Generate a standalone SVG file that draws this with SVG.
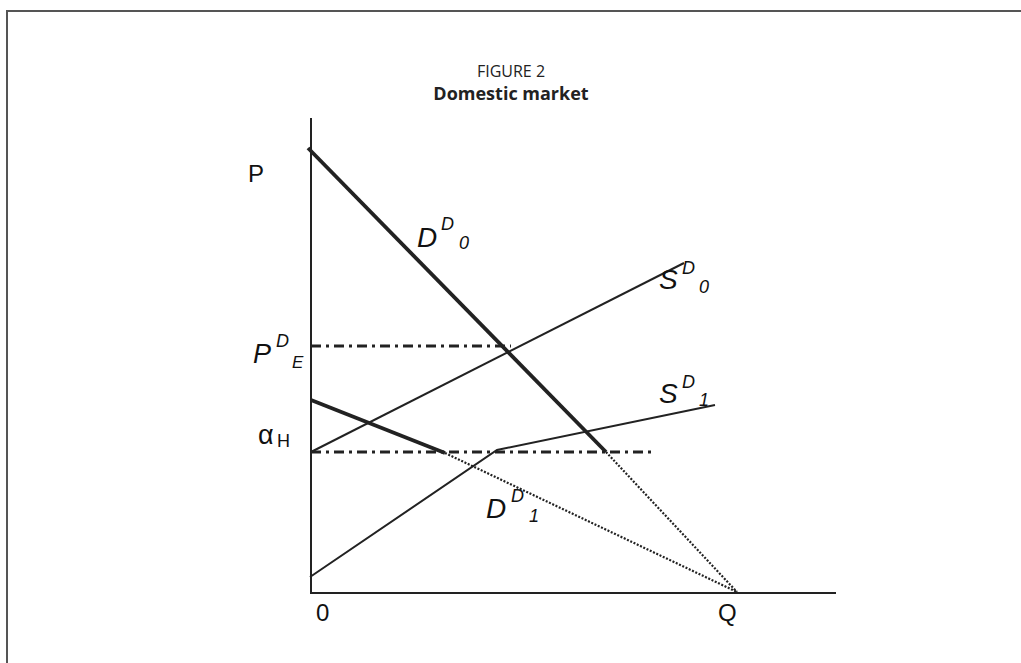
<svg xmlns="http://www.w3.org/2000/svg" width="1021" height="663" viewBox="0 0 1021 663">
<style>
.frame{fill:none;stroke:#555;stroke-width:2}
.axis{stroke:#222;stroke-width:2;fill:none}
.thin{stroke:#222;stroke-width:2;fill:none}
.thick{stroke:#222;stroke-width:3.8;fill:none}
.dot{stroke:#222;stroke-width:2.2;fill:none;stroke-dasharray:2 1.6}
.dashdot{stroke:#222;stroke-width:2.8;fill:none;stroke-dasharray:10 5 3 5}
.lbl{font-family:"Liberation Sans",Arial,sans-serif;fill:#111}
.it{font-style:italic}
.title{font-family:"Open Sans","Liberation Sans",sans-serif;fill:#222;text-anchor:middle}
</style>
<rect width="1021" height="663" fill="#fff"/>
<path class="frame" d="M7 663 V11 H1021"/>
<g id="title">
<text class="title" x="511" y="77" font-size="16">FIGURE 2</text>
<text class="title" x="511" y="100" font-size="18" font-weight="bold">Domestic market</text>
</g>
<g id="axes">
<path class="axis" d="M311 118 V594 M310 593 H836"/>
</g>
<g id="connectors">
<g id="D0"><path class="thick" d="M308 148 L606 452"/><path class="dot" d="M606 452 L737 592"/></g>
<g id="D1"><path class="thick" d="M311 400 L445 453"/><path class="dot" d="M445 453 L737 592"/></g>
<g id="S0"><path class="thin" d="M311 452 L684 263"/></g>
<g id="S1"><path class="thin" d="M310 577 L497 450 L715 405"/></g>
<g id="PE-line"><path class="dashdot" d="M311 346 H511"/></g>
<g id="alpha-line"><path class="dashdot" d="M311 452 H652"/></g>
</g>
<g id="labels">
<text class="lbl" x="248" y="182" font-size="24">P</text>
<g id="lbl-D0"><text class="lbl it" x="417" y="247" font-size="28">D</text><text class="lbl it" x="441" y="230" font-size="18">D</text><text class="lbl it" x="459" y="249" font-size="18">0</text></g>
<g id="lbl-S0"><text class="lbl it" x="659" y="289" font-size="28">S</text><text class="lbl it" x="682" y="274" font-size="18">D</text><text class="lbl it" x="699" y="293" font-size="18">0</text></g>
<g id="lbl-S1"><text class="lbl it" x="659" y="403" font-size="28">S</text><text class="lbl it" x="682" y="388" font-size="18">D</text><text class="lbl it" x="699" y="406" font-size="18">1</text></g>
<g id="lbl-PE"><text class="lbl it" x="253" y="363" font-size="27">P</text><text class="lbl it" x="276" y="347" font-size="18">D</text><text class="lbl it" x="292" y="368" font-size="17">E</text></g>
<g id="lbl-alpha"><text class="lbl" x="258" y="444" font-size="27">α</text><text class="lbl" x="277" y="447" font-size="18">H</text></g>
<g id="lbl-D1"><text class="lbl it" x="486" y="518" font-size="28">D</text><text class="lbl it" x="511" y="502" font-size="18">D</text><text class="lbl it" x="529" y="522" font-size="18">1</text></g>
<text class="lbl" x="316" y="621" font-size="24">0</text>
<text class="lbl" x="718" y="621" font-size="24">Q</text>
</g>
</svg>
